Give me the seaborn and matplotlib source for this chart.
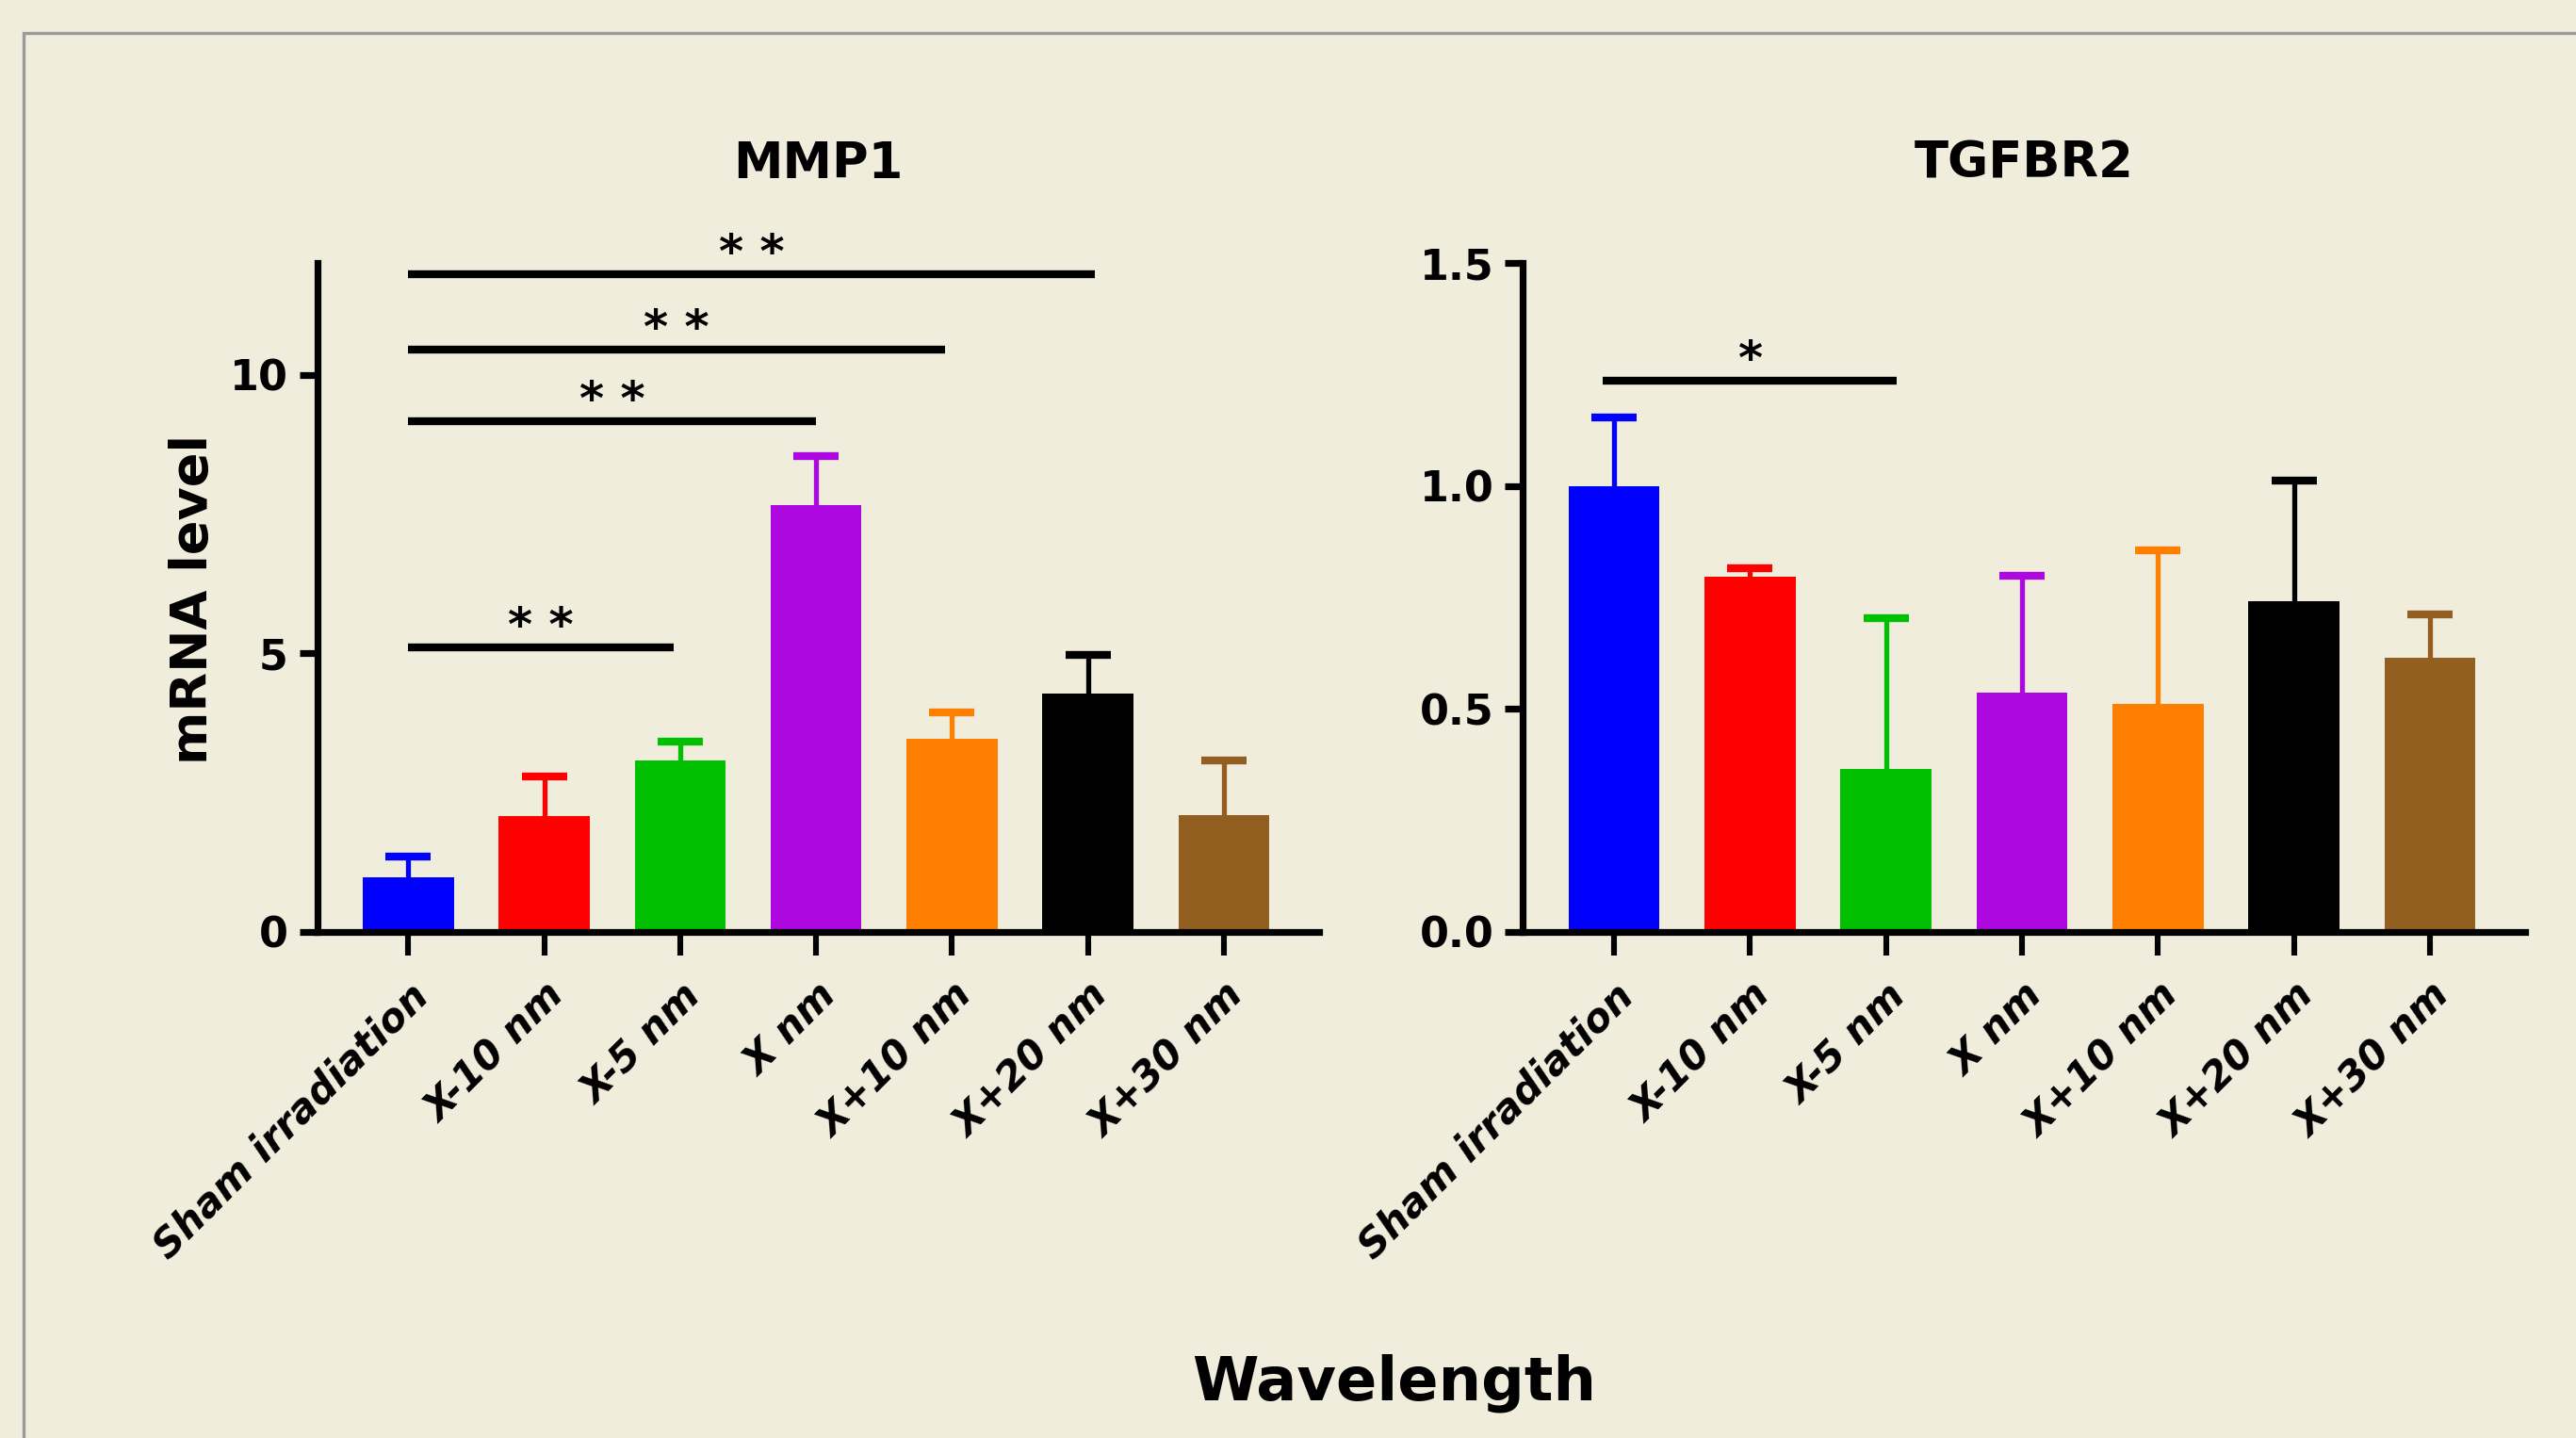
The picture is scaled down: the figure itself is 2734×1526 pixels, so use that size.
import numpy as np
import pandas as pd
import matplotlib
matplotlib.use('Agg')
import matplotlib.pyplot as plt
import seaborn as sns
from matplotlib.patches import Rectangle

groups = ['Sham irradiation', 'X-10 nm', 'X-5 nm', 'X nm', 'X+10 nm', 'X+20 nm', 'X+30 nm']
bar_colors = ['#0000FF', '#FF0000', '#00C000', '#AD08E0', '#FF8000', '#000000', '#935F20']

mmp1_mean = [0.98, 2.08, 3.07, 7.65, 3.46, 4.28, 2.10]
mmp1_err = [0.37, 0.70, 0.34, 0.89, 0.47, 0.69, 0.97]
tgfbr2_mean = [1.00, 0.796, 0.365, 0.536, 0.512, 0.741, 0.614]
tgfbr2_err = [0.154, 0.019, 0.339, 0.262, 0.344, 0.271, 0.098]

# significance lines: from group, to group, height, label
mmp1_sig_from = [0, 0, 0, 0]
mmp1_sig_to = [1.95, 3.0, 3.95, 5.05]
mmp1_sig_y = [5.1, 9.16, 10.45, 11.8]
mmp1_sig_txt = ['* *', '* *', '* *', '* *']
tgfbr2_sig_from = [-0.08]
tgfbr2_sig_to = [2.08]
tgfbr2_sig_y = [1.237]
tgfbr2_sig_txt = ['*']

bg = '#F0EDDD'

sns.set_style('ticks')
plt.rcParams['font.family'] = ['DejaVu Sans']
plt.rcParams['text.color'] = 'black'
plt.rcParams['axes.labelcolor'] = 'black'
plt.rcParams['xtick.color'] = 'black'
plt.rcParams['ytick.color'] = 'black'


def draw_panel(ax, means, errs, ylim, yticks, yticklabels, sig_from, sig_to, sig_y, sig_txt):
    df = pd.DataFrame({'group': groups, 'value': means})
    sns.barplot(data=df, x='group', y='value', hue='group', palette=bar_colors,
                saturation=1, width=0.67, legend=False, errorbar=None, linewidth=0, ax=ax)
    xs = np.arange(len(groups))
    for x, m, e, c in zip(xs, means, errs, bar_colors):
        _, caps, _ = ax.errorbar(x, m, yerr=[[0], [e]], color=c, elinewidth=1.9,
                                 capsize=8.5, capthick=3.0, zorder=3)
        caps[0].set_visible(False)
    for a, b, y, t in zip(sig_from, sig_to, sig_y, sig_txt):
        ax.plot([a, b], [y, y], color='black', lw=3.0, solid_capstyle='butt', clip_on=False)
        ax.text((a + b) / 2, y - (ylim[1] - ylim[0]) * 0.004, t, ha='center', va='bottom',
                fontsize=18, fontweight='bold')
    ax.set_facecolor(bg)
    ax.set_xlim(-0.67, 6.7)
    ax.set_ylim(*ylim)
    ax.set_xlabel('')
    ax.set_ylabel('')
    for s in ['top', 'right']:
        ax.spines[s].set_visible(False)
    for s in ['left', 'bottom']:
        ax.spines[s].set_linewidth(2.6)
        ax.spines[s].set_color('black')
    ax.set_xticks(xs)
    ax.set_xticklabels(groups, rotation=45, ha='right', va='top', rotation_mode='anchor',
                       fontsize=15, fontweight='bold', fontstyle='italic')
    ax.set_yticks(yticks)
    ax.set_yticklabels(yticklabels, fontsize=16, fontweight='bold')
    ax.tick_params(axis='x', direction='out', length=9, width=2.2, pad=8)
    ax.tick_params(axis='y', direction='out', length=7, width=2.6, pad=4)


fig = plt.figure(figsize=(13.67, 7.63), dpi=200, facecolor=bg)
ax1 = fig.add_axes([0.1231, 0.352, 0.389, 0.465])
ax2 = fig.add_axes([0.5912, 0.352, 0.389, 0.465])

draw_panel(ax1, mmp1_mean, mmp1_err, (0, 12), [0, 5, 10], ['0', '5', '10'],
           mmp1_sig_from, mmp1_sig_to, mmp1_sig_y, mmp1_sig_txt)
draw_panel(ax2, tgfbr2_mean, tgfbr2_err, (0, 1.5), [0, 0.5, 1.0, 1.5],
           ['0.0', '0.5', '1.0', '1.5'],
           tgfbr2_sig_from, tgfbr2_sig_to, tgfbr2_sig_y, tgfbr2_sig_txt)

fig.text(0.3176, 0.886, 'MMP1', ha='center', va='center', fontsize=19, fontweight='bold')
fig.text(0.7857, 0.886, 'TGFBR2', ha='center', va='center', fontsize=19, fontweight='bold')
fig.text(0.075, 0.583, 'mRNA level', ha='center', va='center', rotation=90,
         fontsize=19.5, fontweight='bold')
fig.text(0.541, 0.038, 'Wavelength', ha='center', va='center', fontsize=23, fontweight='bold')

fig.patches.append(Rectangle((0.009, -0.05), 1.1, 1.027, transform=fig.transFigure,
                             fill=False, edgecolor='#9a9a9a', lw=1.2))

fig.savefig('out.png', dpi=200, facecolor=bg)
